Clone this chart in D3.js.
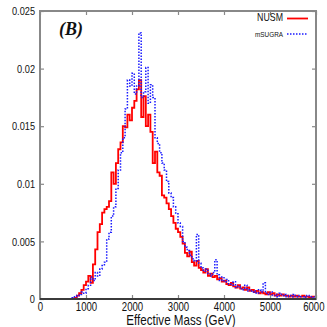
<!DOCTYPE html>
<html>
<head>
<meta charset="utf-8">
<script src="https://cdn.jsdelivr.net/npm/d3@7"></script>
<style>
  body { margin: 0; background: #fff; }
  svg { display: block; }
  text { font-family: "Liberation Sans Narrow", "Liberation Sans", Arial, sans-serif; fill: #111; }
</style>
</head>
<body>
<div id="chart"></div>
<script>
// histogram bins, 50 GeV wide, starting at 0 GeV
const binWidth = 50;
const nusm = [
  0, 0, 0, 0, 0, 0, 0, 0, 0, 0, 0, 0, 0, 0, 0,
  0.0001, 0.0003, 0.0005, 0.0008, 0.0012, 0.0015, 0.0020, 0.0014, 0.0030, 0.0043,
  0.0058, 0.0065, 0.0075, 0.0078, 0.0080, 0.0085, 0.0110, 0.0100, 0.0118, 0.0130,
  0.0136, 0.0150, 0.0149, 0.0160, 0.0155, 0.0166, 0.0172, 0.0182, 0.0190, 0.0158,
  0.0176, 0.0150, 0.0160, 0.0145, 0.0118, 0.0128, 0.0110, 0.0107, 0.0090, 0.0088,
  0.0083, 0.0078, 0.0072, 0.0066, 0.0061, 0.0058, 0.0054, 0.0048, 0.0040, 0.0037,
  0.0041, 0.0032, 0.0029, 0.0033, 0.0027, 0.0025, 0.0023, 0.0026, 0.0020, 0.0022,
  0.0019, 0.0020, 0.0017, 0.0018, 0.0015, 0.0016, 0.0013, 0.0012, 0.0014, 0.0011,
  0.0010, 0.0012, 0.0009, 0.0010, 0.0008, 0.0010, 0.0007, 0.0008, 0.0006, 0.0007,
  0.0005, 0.0006, 0.0005, 0.0004, 0.0006, 0.0004, 0.0005, 0.0003, 0.0004, 0.0003,
  0.0004, 0.0003, 0.0003, 0.0002, 0.0003, 0.0002, 0.0003, 0.0002, 0.0002, 0.0003,
  0.0002, 0.0002, 0.0001, 0.0002, 0.0002
];
const msugra = [
  0, 0, 0, 0, 0, 0, 0, 0, 0, 0, 0, 0, 0, 0,
  0.0001, 0.0002, 0.0003, 0.0004, 0.0006, 0.0005, 0.0009, 0.0012, 0.0019, 0.0016,
  0.0023, 0.0020, 0.0026, 0.0029, 0.0032, 0.0052, 0.0058, 0.0072, 0.0080, 0.0096,
  0.0112, 0.0127, 0.0140, 0.0165, 0.0190, 0.0185, 0.0196, 0.0178, 0.0185, 0.0231,
  0.0175, 0.0180, 0.0201, 0.0170, 0.0186, 0.0175, 0.0140, 0.0135, 0.0127, 0.0118,
  0.0112, 0.0102, 0.0092, 0.0088, 0.0080, 0.0074, 0.0066, 0.0063, 0.0050, 0.0045,
  0.0042, 0.0038, 0.0035, 0.0033, 0.0056, 0.0031, 0.0027, 0.0024, 0.0026, 0.0022,
  0.0020, 0.0023, 0.0034, 0.0021, 0.0016, 0.0019, 0.0015, 0.0017, 0.0013, 0.0012,
  0.0015, 0.0010, 0.0011, 0.0009, 0.0008, 0.0012, 0.0007, 0.0008, 0.0006, 0.0007,
  0.0005, 0.0008, 0.0006, 0.0014, 0.0005, 0.0004, 0.0006, 0.0003, 0.0004, 0.0002,
  0.0005, 0.0003, 0.0004, 0.0002, 0.0003, 0.0002, 0.0004, 0.0002, 0.0003, 0.0002,
  0.0002, 0.0001, 0.0003, 0.0002, 0.0001, 0.0002
];
const xTicks = [0, 1000, 2000, 3000, 4000, 5000, 6000];
const yTicks = [0, 0.005, 0.01, 0.015, 0.02, 0.025];
const xLabel = 'Effective Mass (GeV)';
const panelLabel = '(B)';
const seriesNames = ['NUSM', 'mSUGRA'];

let width = 327,
    height = 327;
let margin = { left: 40, right: 11, top: 11, bottom: 28 };

let x = d3.scaleLinear().domain([0, 6000]).range([margin.left, width - margin.right]);
let y = d3.scaleLinear().domain([0, 0.025]).range([height - margin.bottom, margin.top]);

let svg = d3.select('#chart').append('svg')
  .attr('width', width)
  .attr('height', height);

// squeeze text horizontally, the original uses a narrow Helvetica
function narrow(sel, k) {
  sel.each(function() {
    let w = this.getComputedTextLength();
    d3.select(this).attr('textLength', w * k).attr('lengthAdjust', 'spacingAndGlyphs');
  });
}

// turn bin values into step points, closing the last bin
function steps(vals) {
  let pts = vals.map((v, i) => [i * binWidth, v]);
  pts.push([vals.length * binWidth, vals[vals.length - 1]]);
  return pts;
}

let line = d3.line()
  .x(d => x(d[0]))
  .y(d => y(d[1]))
  .curve(d3.curveStepAfter);

let plot = svg.append('g');

plot.append('path')
  .datum(steps(nusm))
  .attr('d', line)
  .style('fill', 'none')
  .style('stroke', '#ff0000')
  .style('stroke-width', 1.8);

plot.append('path')
  .datum(steps(msugra))
  .attr('d', line)
  .style('fill', 'none')
  .style('stroke', '#1a1aff')
  .style('stroke-width', 1.5)
  .style('stroke-dasharray', '1.5,1.5');

// axes: ticks inward on all four sides
let x0 = x.range()[0], x1 = x.range()[1];
let y0 = y.range()[0], y1 = y.range()[1];
let tickLen = 4;

let axisB = svg.append('g').attr('transform', `translate(0,${y0})`)
  .call(d3.axisBottom(x).tickValues(xTicks).tickSizeInner(-tickLen).tickSizeOuter(0)
    .tickFormat(d3.format('d')).tickPadding(3));
let axisT = svg.append('g').attr('transform', `translate(0,${y1})`)
  .call(d3.axisTop(x).tickValues(xTicks).tickSizeInner(-tickLen).tickSizeOuter(0).tickFormat(''));
let axisL = svg.append('g').attr('transform', `translate(${x0},0)`)
  .call(d3.axisLeft(y).tickValues(yTicks).tickSizeInner(-tickLen).tickSizeOuter(0)
    .tickFormat(d => d === 0 ? '0' : String(+d.toFixed(3))).tickPadding(5));
let axisR = svg.append('g').attr('transform', `translate(${x1},0)`)
  .call(d3.axisRight(y).tickValues(yTicks).tickSizeInner(-tickLen).tickSizeOuter(0).tickFormat(''));

[axisB, axisT, axisL, axisR].forEach(g => {
  g.select('.domain').remove();
  g.selectAll('.tick line').style('stroke', '#888').style('stroke-width', 1.2);
  g.selectAll('text').style('fill', '#111');
});
axisB.selectAll('text').style('font-size', '12px').call(narrow, 0.8);
// last label sits against the window edge
axisB.selectAll('.tick:last-of-type text').attr('text-anchor', 'end').attr('x', 8);
axisL.selectAll('text').style('font-size', '11.5px').call(narrow, 0.8);

// frame
svg.append('rect')
  .attr('x', x0).attr('y', y1)
  .attr('width', x1 - x0).attr('height', y0 - y1)
  .style('fill', 'none')
  .style('stroke', '#888')
  .style('stroke-width', 2);
svg.append('line')
  .attr('x1', x0).attr('x2', x1).attr('y1', y0).attr('y2', y0)
  .style('stroke', '#222')
  .style('stroke-width', 1.5);

// x axis title
svg.append('text')
  .attr('x', (x0 + x1) / 2 + 3)
  .attr('y', 325)
  .attr('text-anchor', 'middle')
  .style('font-size', '14.5px')
  .text(xLabel)
  .call(narrow, 0.8);

// panel label
svg.append('text')
  .attr('x', 59)
  .attr('y', 35)
  .style('font-family', '"Liberation Serif", "Times New Roman", serif')
  .style('font-style', 'italic')
  .style('font-weight', 'bold')
  .style('font-size', '18px')
  .text(panelLabel);

// legend
let legend = svg.append('g');
legend.append('text')
  .attr('x', 283).attr('y', 21)
  .attr('text-anchor', 'end')
  .style('font-size', '11px')
  .text(seriesNames[0])
  .call(narrow, 0.8);
legend.append('line')
  .attr('x1', 287).attr('x2', 308).attr('y1', 18.5).attr('y2', 18.5)
  .style('stroke', '#ff0000').style('stroke-width', 1.8);
legend.append('text')
  .attr('x', 283).attr('y', 36.5)
  .attr('text-anchor', 'end')
  .style('font-size', '7.5px')
  .text(seriesNames[1])
  .call(narrow, 0.85);
legend.append('line')
  .attr('x1', 287).attr('x2', 308).attr('y1', 34).attr('y2', 34)
  .style('stroke', '#1a1aff').style('stroke-width', 1.5)
  .style('stroke-dasharray', '1.5,1.5');
</script>
</body>
</html>
